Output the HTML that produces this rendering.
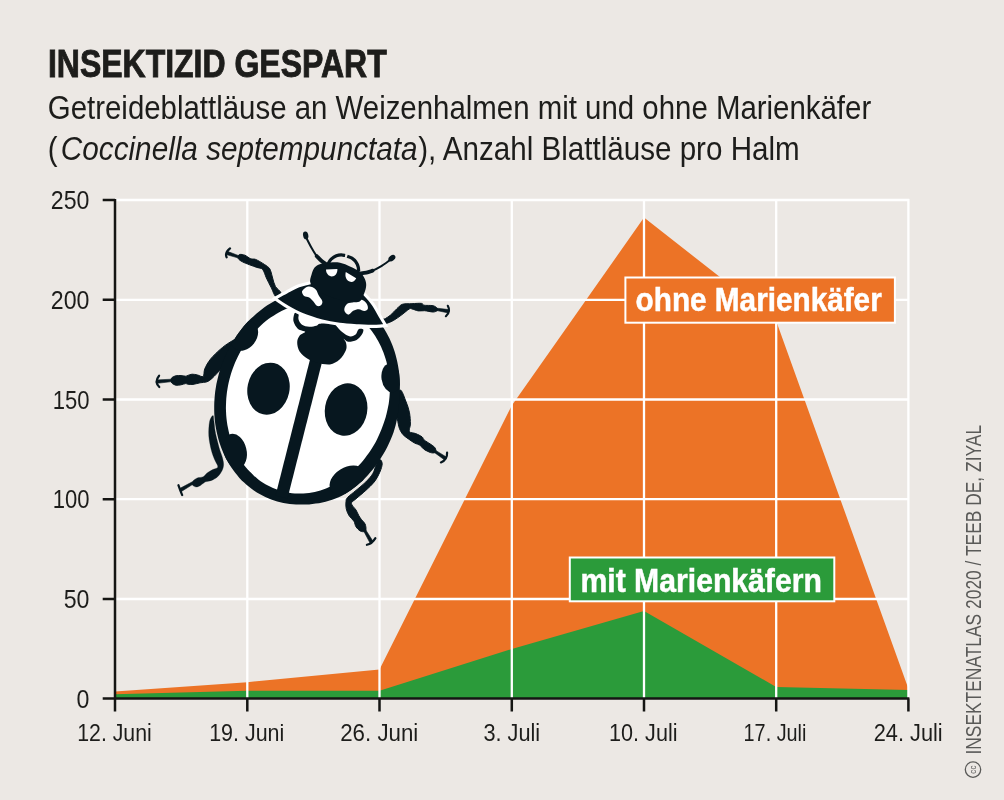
<!DOCTYPE html>
<html lang="de"><head><meta charset="utf-8"><title>Insektizid gespart</title>
<style>
html,body{margin:0;padding:0;background:#ece8e4;}
body{width:1004px;height:800px;overflow:hidden;}
svg{display:block;font-family:"Liberation Sans",sans-serif;}
</style></head><body>
<svg width="1004" height="800" viewBox="0 0 1004 800">
<rect width="1004" height="800" fill="#ece8e4"/>

<text transform="translate(47.9,76.5) scale(0.842,1)" font-size="38" font-weight="bold" text-anchor="start" fill="#1d1d1b" stroke="#1d1d1b" stroke-width="0.9">INSEKTIZID GESPART</text>
<text transform="translate(47.8,118.7) scale(0.8915,1)" font-size="33" font-weight="normal" text-anchor="start" fill="#1d1d1b" >Getreideblattläuse an Weizenhalmen mit und ohne Marienkäfer</text>
<text transform="translate(47.8,160.2) scale(0.89,1)" font-size="33" font-weight="normal" text-anchor="start" fill="#1d1d1b" >(</text>
<text transform="translate(60.8,160.2) scale(0.901,1)" font-size="33" font-weight="normal" text-anchor="start" fill="#1d1d1b" font-style="italic">Coccinella septempunctata</text>
<text transform="translate(418.2,160.2) scale(0.897,1)" font-size="33" font-weight="normal" text-anchor="start" fill="#1d1d1b" >), Anzahl Blattläuse pro Halm</text>
<polygon points="115.0,698.6 115.0,691.5 247.3,682.2 379.5,669.5 511.8,405.5 644.0,217.6 776.2,321.0 907.8,687.0 907.8,698.6" fill="#ec7326"/>
<polygon points="115.0,698.6 115.0,694.3 247.3,690.8 379.5,690.8 511.8,649.0 644.0,611.0 776.2,687.0 908.4,690.0 908.4,698.6" fill="#2b9b3a"/>
<path d="M247.3 199 V698.6 M379.5 199 V698.6 M511.8 199 V698.6 M644.0 199 V698.6 M776.2 199 V698.6 M908.4 199 V698.6 M115 200.0 H909.3 M115 299.8 H909.3 M115 399.5 H909.3 M115 499.2 H909.3 M115 599.0 H909.3" stroke="#fff" stroke-width="2.3" fill="none"/>
<path d="M115 199 V698.6 M102.7 698.6 H909.4 M102.7 200.0 H115 M102.7 299.8 H115 M102.7 399.5 H115 M102.7 499.2 H115 M102.7 599.0 H115 M115.0 698.6 V711.6 M247.3 698.6 V711.6 M379.5 698.6 V711.6 M511.8 698.6 V711.6 M644.0 698.6 V711.6 M776.2 698.6 V711.6 M908.4 698.6 V711.6" stroke="#151513" stroke-width="2.5" fill="none"/>
<text transform="translate(89.5,209.0) scale(0.92,1)" font-size="25.2" font-weight="normal" text-anchor="end" fill="#1d1d1b" >250</text>
<text transform="translate(89.5,308.8) scale(0.92,1)" font-size="25.2" font-weight="normal" text-anchor="end" fill="#1d1d1b" >200</text>
<text transform="translate(89.5,408.5) scale(0.875,1)" font-size="25.2" font-weight="normal" text-anchor="end" fill="#1d1d1b" >150</text>
<text transform="translate(89.5,508.2) scale(0.875,1)" font-size="25.2" font-weight="normal" text-anchor="end" fill="#1d1d1b" >100</text>
<text transform="translate(89.5,608.0) scale(0.92,1)" font-size="25.2" font-weight="normal" text-anchor="end" fill="#1d1d1b" >50</text>
<text transform="translate(89.5,707.6) scale(0.92,1)" font-size="25.2" font-weight="normal" text-anchor="end" fill="#1d1d1b" >0</text>
<text transform="translate(114.5,740.8) scale(0.887,1)" font-size="24" font-weight="normal" text-anchor="middle" fill="#1d1d1b" >12. Juni</text>
<text transform="translate(246.75,740.8) scale(0.894,1)" font-size="24" font-weight="normal" text-anchor="middle" fill="#1d1d1b" >19. Juni</text>
<text transform="translate(379.25,740.8) scale(0.93,1)" font-size="24" font-weight="normal" text-anchor="middle" fill="#1d1d1b" >26. Juni</text>
<text transform="translate(511.8,740.8) scale(0.906,1)" font-size="24" font-weight="normal" text-anchor="middle" fill="#1d1d1b" >3. Juli</text>
<text transform="translate(643.3,740.8) scale(0.9,1)" font-size="24" font-weight="normal" text-anchor="middle" fill="#1d1d1b" >10. Juli</text>
<text transform="translate(775.0,740.8) scale(0.826,1)" font-size="24" font-weight="normal" text-anchor="middle" fill="#1d1d1b" >17. Juli</text>
<text transform="translate(908.2,740.8) scale(0.908,1)" font-size="24" font-weight="normal" text-anchor="middle" fill="#1d1d1b" >24. Juli</text>
<rect x="625.4" y="277.5" width="269.5" height="45.2" fill="#ec7326" stroke="#fff" stroke-width="2"/>
<text transform="translate(635.6,311.2) scale(0.918,1)" font-size="32.4" font-weight="bold" text-anchor="start" fill="#fff" stroke="#fff" stroke-width="0.5">ohne Marienkäfer</text>
<rect x="569.8" y="557.5" width="264.5" height="43.8" fill="#2b9b3a" stroke="#fff" stroke-width="2"/>
<text transform="translate(580.5,591.8) scale(0.931,1)" font-size="32.4" font-weight="bold" text-anchor="start" fill="#fff" stroke="#fff" stroke-width="0.5">mit Marienkäfern</text>
<g transform="translate(980.6,754.6) rotate(-90)"><text transform="scale(0.791,1)" font-size="22" fill="#5a5a58">INSEKTENATLAS 2020 / TEEB DE, ZIYAL</text></g>
<g transform="translate(973,769.6)"><circle r="7.7" fill="none" stroke="#5a5a58" stroke-width="1.3"/><text transform="rotate(-90) scale(0.9,1)" x="0" y="2.6" font-size="9" text-anchor="middle" fill="#555">cc</text></g>
<g id="bug">
<path d="M238.2 255.8C238.5 255.1 238.9 254.5 240.0 254.4C241.1 254.3 243.0 254.5 244.8 255.2C246.6 255.9 249.0 258.1 250.8 258.8C252.6 259.5 253.6 258.6 255.6 259.4C257.6 260.2 260.6 262.0 262.8 263.4C265.0 264.8 267.4 266.2 268.8 267.6C270.2 269.0 270.4 270.3 271.0 272.0C271.6 273.7 271.9 275.6 272.6 278.0C273.3 280.4 274.0 283.9 275.4 286.4C276.8 288.9 280.9 291.2 281.0 293.0C281.1 294.8 277.6 297.9 276.0 297.0C274.4 296.1 272.8 290.8 271.2 287.6C269.6 284.4 267.8 281.0 266.4 278.0C265.0 275.0 264.2 271.2 262.6 269.4C261.0 267.6 259.0 268.2 256.8 267.4C254.6 266.6 252.0 265.7 249.6 264.8C247.2 263.9 244.3 262.8 242.4 261.8C240.5 260.8 239.1 259.8 238.4 258.8C237.7 257.8 237.9 256.5 238.2 255.8Z" fill="#07171f" stroke="#07171f" stroke-width="1.0" stroke-linejoin="round"/>
<path d="M230.0 248.4Q224.5 252.8 226.6 257.3" fill="none" stroke="#07171f" stroke-width="2.2" stroke-linecap="round"/><path d="M239.4 255.9L227.3 251.3L226.2 254.5L238.6 258.1Z" fill="#07171f" stroke="#07171f" stroke-width="0.6" stroke-linejoin="round"/>
<path d="M171.0 380.2C171.0 379.3 171.2 378.3 172.0 377.6C172.8 376.9 174.5 376.1 176.0 375.8C177.5 375.5 179.4 375.5 181.0 375.6C182.6 375.7 184.4 376.2 185.6 376.2C186.8 376.2 186.9 375.7 188.0 375.4C189.1 375.1 190.4 374.3 192.0 374.2C193.6 374.1 195.7 374.6 197.6 375.0C199.5 375.4 202.0 377.4 203.2 376.4C204.4 375.4 203.6 371.7 204.8 368.8C206.0 365.9 208.0 362.2 210.6 359.0C213.2 355.8 217.0 352.2 220.2 349.4C223.4 346.6 227.0 343.9 230.0 342.2C233.0 340.5 237.0 337.4 238.0 339.0C239.0 340.6 237.7 348.2 236.0 352.0C234.3 355.8 230.3 359.3 228.0 362.0C225.7 364.7 223.9 366.1 222.0 368.0C220.1 369.9 218.5 371.9 216.8 373.6C215.1 375.3 213.6 377.0 212.0 378.4C210.4 379.8 209.0 381.1 207.0 381.8C205.0 382.5 202.3 382.4 200.0 382.8C197.7 383.2 195.0 384.2 193.0 384.4C191.0 384.6 189.2 384.3 188.0 384.2C186.8 384.1 186.8 383.5 185.6 383.6C184.4 383.7 182.6 384.5 181.0 384.8C179.4 385.1 177.5 385.5 176.0 385.2C174.5 384.9 172.8 384.0 172.0 383.2C171.2 382.4 171.0 381.1 171.0 380.2Z" fill="#07171f" stroke="#07171f" stroke-width="1.0" stroke-linejoin="round"/>
<path d="M159.1 375.7Q154.0 381.9 159.3 387.0" fill="none" stroke="#07171f" stroke-width="2.2" stroke-linecap="round"/><path d="M171.9 379.2L156.9 379.9L157.1 383.3L172.1 381.6Z" fill="#07171f" stroke="#07171f" stroke-width="0.6" stroke-linejoin="round"/>
<path d="M213.0 415.4C212.3 415.4 210.3 418.2 209.6 421.6C208.9 425.0 208.5 431.2 208.8 436.0C209.1 440.8 210.4 446.4 211.4 450.4C212.4 454.4 213.7 457.2 214.8 460.0C215.9 462.8 218.1 465.4 217.8 467.0C217.5 468.6 214.6 468.6 212.8 469.6C211.0 470.6 208.4 472.0 206.8 473.2C205.2 474.4 204.8 476.0 203.2 476.8C201.6 477.6 198.9 477.3 197.2 478.0C195.5 478.7 193.7 480.1 192.8 481.2C191.9 482.3 191.5 483.6 192.0 484.6C192.5 485.6 194.5 486.9 196.0 487.0C197.5 487.1 199.2 486.1 200.8 485.2C202.4 484.3 203.8 482.6 205.6 481.8C207.4 481.0 209.6 481.2 211.6 480.4C213.6 479.6 215.9 478.4 217.6 476.8C219.3 475.2 221.0 472.8 222.0 470.8C223.0 468.8 223.5 467.0 223.6 464.8C223.7 462.6 223.1 460.4 222.4 457.6C221.7 454.8 220.3 452.0 219.2 448.0C218.1 444.0 216.5 438.0 215.6 433.6C214.7 429.2 214.4 424.6 214.0 421.6C213.6 418.6 213.7 415.4 213.0 415.4Z" fill="#07171f" stroke="#07171f" stroke-width="0.3" stroke-linejoin="round"/>
<path d="M178.4 485.2Q180.1 490.3 182.2 495.1" fill="none" stroke="#07171f" stroke-width="2.2" stroke-linecap="round"/><path d="M192.4 481.8L179.7 488.5L181.4 491.5L193.6 483.8Z" fill="#07171f" stroke="#07171f" stroke-width="0.6" stroke-linejoin="round"/>
<path d="M379.8 459.6C380.8 459.5 382.2 461.7 382.2 463.8C382.2 465.9 381.1 469.2 379.8 472.2C378.5 475.2 376.5 479.0 374.2 482.0C371.9 485.0 368.8 487.6 365.8 490.4C362.8 493.2 358.4 496.6 356.0 498.8C353.6 501.0 351.4 501.5 351.4 503.4C351.4 505.3 354.8 508.0 356.0 510.0C357.2 512.0 357.9 514.0 358.8 515.6C359.7 517.2 360.6 518.4 361.6 519.8C362.7 521.2 364.4 522.4 365.1 524.0C365.8 525.6 366.1 528.3 366.0 529.6C365.9 530.9 365.6 531.4 364.6 531.6C363.6 531.8 361.6 531.8 360.2 531.0C358.8 530.2 357.1 528.4 356.0 526.8C354.9 525.2 355.1 523.1 353.9 521.2C352.7 519.3 350.3 517.7 349.0 515.6C347.7 513.5 346.7 510.9 346.2 508.6C345.7 506.3 345.8 503.5 346.0 501.6C346.2 499.7 345.9 499.3 347.6 497.4C349.3 495.5 353.0 493.0 356.0 490.4C359.0 487.8 363.0 484.8 365.8 482.0C368.6 479.2 371.1 476.5 372.8 473.6C374.6 470.7 375.1 466.8 376.3 464.5C377.5 462.2 378.8 459.7 379.8 459.6Z" fill="#07171f" stroke="#07171f" stroke-width="1.0" stroke-linejoin="round"/>
<path d="M366.9 544.8Q372.2 543.6 375.4 538.1" fill="none" stroke="#07171f" stroke-width="2.2" stroke-linecap="round"/><path d="M363.8 531.2L370.0 543.0L373.0 541.3L365.8 530.0Z" fill="#07171f" stroke="#07171f" stroke-width="0.6" stroke-linejoin="round"/>
<path d="M400.0 390.0C402.0 389.4 404.4 397.8 406.0 401.6C407.6 405.4 408.8 409.1 409.5 412.8C410.2 416.5 410.4 420.9 410.4 424.0C410.4 427.1 408.5 429.9 409.4 431.5C410.3 433.1 413.6 432.7 415.7 433.6C417.8 434.5 420.6 435.8 422.0 436.8C423.4 437.9 422.7 438.7 424.1 439.9C425.5 441.1 428.6 442.9 430.4 444.1C432.1 445.3 433.7 446.2 434.6 447.3C435.5 448.4 435.9 449.7 435.9 450.6C435.9 451.5 435.5 452.4 434.6 452.7C433.7 453.0 432.1 453.1 430.4 452.5C428.6 451.9 425.9 450.6 424.1 449.4C422.4 448.2 421.5 446.2 419.9 445.2C418.3 444.1 416.6 444.2 414.7 443.1C412.8 442.1 410.3 440.3 408.4 438.9C406.5 437.5 404.6 436.4 403.1 434.7C401.6 432.9 400.4 431.0 399.4 428.4C398.4 425.8 398.2 422.8 397.3 418.9C396.4 415.0 393.6 409.8 394.0 405.0C394.4 400.2 398.0 390.6 400.0 390.0Z" fill="#07171f" stroke="#07171f" stroke-width="1.0" stroke-linejoin="round"/>
<path d="M440.9 462.4Q447.4 459.7 447.1 452.7" fill="none" stroke="#07171f" stroke-width="2.2" stroke-linecap="round"/><path d="M434.3 452.4L444.4 459.8L446.3 457.0L435.7 450.4Z" fill="#07171f" stroke="#07171f" stroke-width="0.6" stroke-linejoin="round"/>
<path d="M381.0 318.5C381.5 317.6 382.6 319.7 384.2 319.1C385.8 318.5 388.5 316.7 390.6 315.0C392.7 313.3 394.8 310.6 396.8 308.8C398.8 307.0 399.9 305.2 402.4 304.3C404.9 303.4 408.8 303.9 412.0 303.7C415.2 303.5 419.5 303.1 421.5 303.4C423.5 303.6 421.9 304.8 423.8 305.2C425.7 305.6 430.7 305.2 433.0 305.7C435.3 306.2 436.7 307.6 437.4 308.4C438.1 309.2 438.1 309.9 437.4 310.5C436.7 311.1 435.1 312.0 433.0 312.0C430.9 312.0 427.1 310.9 424.6 310.7C422.2 310.5 420.4 311.2 418.3 310.9C416.2 310.6 413.5 309.2 412.0 308.9C410.5 308.6 410.9 308.1 409.2 309.0C407.5 309.9 404.6 312.7 402.0 314.6C399.4 316.5 396.3 318.9 393.6 320.4C390.9 321.9 388.1 322.9 386.0 323.6C383.9 324.3 381.8 325.5 381.0 324.6C380.2 323.8 380.5 319.4 381.0 318.5Z" fill="#07171f" stroke="#07171f" stroke-width="1.0" stroke-linejoin="round"/>
<path d="M445.9 316.2Q451.1 311.6 447.8 305.8" fill="none" stroke="#07171f" stroke-width="2.2" stroke-linecap="round"/><path d="M436.8 310.6L448.3 312.9L448.9 309.6L437.2 308.2Z" fill="#07171f" stroke="#07171f" stroke-width="0.6" stroke-linejoin="round"/>
<path d="M395.7 425.1C395.0 427.6 394.3 430.1 393.5 432.6C392.7 435.0 391.7 437.4 390.6 439.8C389.6 442.2 388.5 444.5 387.4 446.8C386.2 449.1 385.0 451.4 383.7 453.6C382.4 455.9 381.0 458.0 379.6 460.2C378.2 462.3 376.7 464.4 375.1 466.4C373.6 468.4 372.0 470.4 370.3 472.3C368.7 474.3 367.0 476.1 365.2 477.9C363.5 479.7 361.7 481.5 359.8 483.1C358.0 484.7 356.0 486.3 354.1 487.8C352.1 489.3 350.1 490.6 348.1 492.0C346.1 493.3 344.0 494.6 341.9 495.7C339.8 496.8 337.6 497.6 335.5 498.5C333.3 499.3 331.1 500.0 328.9 500.7C326.7 501.3 324.5 501.9 322.3 502.4C320.1 502.8 317.9 503.3 315.7 503.6C313.5 503.9 311.3 504.2 309.1 504.4C306.9 504.5 304.8 504.6 302.6 504.6C300.4 504.6 298.3 504.6 296.1 504.5C294.0 504.4 291.8 504.2 289.7 504.0C287.6 503.7 285.5 503.4 283.4 503.0C281.3 502.5 279.2 502.0 277.2 501.4C275.2 500.9 273.2 500.2 271.2 499.4C269.2 498.7 267.2 497.9 265.3 497.0C263.4 496.1 261.5 495.1 259.6 494.1C257.8 493.0 255.9 491.9 254.2 490.7C252.4 489.5 250.6 488.2 249.0 486.8C247.3 485.5 245.6 484.1 244.1 482.6C242.5 481.1 240.9 479.5 239.4 477.9C238.0 476.2 236.5 474.5 235.2 472.8C233.8 471.0 232.5 469.2 231.2 467.3C230.0 465.5 228.8 463.5 227.7 461.5C226.6 459.6 225.5 457.5 224.5 455.4C223.5 453.3 222.6 451.2 221.7 449.0C220.9 446.9 220.1 444.6 219.4 442.4C218.7 440.1 218.0 437.8 217.5 435.5C216.9 433.2 216.4 430.8 216.0 428.4C215.6 426.1 215.2 423.7 214.9 421.2C214.7 418.8 214.5 416.4 214.3 413.9C214.2 411.4 214.2 409.0 214.2 406.5C214.2 404.0 214.3 401.5 214.5 399.0C214.7 396.5 214.9 394.0 215.2 391.6C215.6 389.1 216.0 386.6 216.4 384.1C216.9 381.6 217.5 379.2 218.1 376.7C218.7 374.3 219.4 371.9 220.2 369.5C220.9 367.0 221.8 364.7 222.7 362.3C223.6 360.0 224.5 357.6 225.6 355.3C226.6 353.0 227.7 350.8 228.9 348.6C230.0 346.3 231.3 344.1 232.6 342.0C233.9 339.9 235.2 337.8 236.6 335.7C238.0 333.7 239.5 331.7 241.0 329.8C242.5 327.8 244.1 325.9 245.7 324.1C247.4 322.3 249.0 320.5 250.7 318.8C252.5 317.1 254.2 315.5 256.0 313.9C257.8 312.4 259.7 310.9 261.6 309.4C263.5 308.0 265.4 306.6 267.3 305.3C269.3 304.1 271.3 302.8 273.3 301.7C275.3 300.6 277.3 299.5 279.4 298.5C281.5 297.6 283.5 296.7 285.6 295.9C287.7 295.0 289.9 294.3 292.0 293.7C294.1 293.0 296.3 292.4 298.4 292.0C300.6 291.5 302.7 291.1 304.9 290.8C307.0 290.5 309.2 290.3 311.4 290.1C313.5 290.0 315.7 289.9 317.8 290.0C320.0 290.0 322.1 290.2 324.2 290.4C326.4 290.6 328.5 290.9 330.6 291.3C332.6 291.7 334.7 292.1 336.8 292.7C338.8 293.2 340.8 293.9 342.8 294.6C344.8 295.3 346.8 296.1 348.7 297.0C350.6 297.9 352.5 298.9 354.4 299.9C356.2 301.0 358.1 302.1 359.8 303.3C361.6 304.5 363.4 305.8 365.0 307.2C366.7 308.5 368.4 309.9 369.9 311.4C371.5 312.9 373.1 314.5 374.6 316.1C376.0 317.8 377.5 319.5 378.8 321.2C380.2 323.0 381.5 324.8 382.8 326.7C384.0 328.5 385.2 330.5 386.3 332.5C387.4 334.4 388.5 336.5 389.5 338.6C390.5 340.7 391.4 342.8 392.3 345.0C393.1 347.1 393.9 349.4 394.6 351.6C395.3 353.9 396.0 356.2 396.5 358.5C397.1 360.8 397.6 363.2 398.0 365.6C398.4 367.9 398.8 370.3 399.1 372.8C399.3 375.2 399.5 377.6 399.7 380.1C399.8 382.6 399.9 385.0 399.9 387.5C399.9 390.0 399.8 392.5 399.7 395.0C399.5 397.5 399.3 400.0 399.1 402.5C398.9 405.0 398.7 407.5 398.4 410.0C398.1 412.5 397.7 415.1 397.3 417.6C396.8 420.1 396.3 422.6 395.7 425.1Z" fill="#07171f"/>
<path d="M384.7 420.3C384.0 422.4 383.2 424.5 382.5 426.6C381.7 428.7 380.9 430.8 380.0 432.8C379.2 434.9 378.2 436.9 377.2 438.9C376.3 440.8 375.2 442.8 374.1 444.7C373.0 446.6 371.9 448.5 370.7 450.3C369.5 452.1 368.2 453.9 366.9 455.6C365.6 457.4 364.3 459.1 363.0 460.8C361.6 462.4 360.2 464.0 358.7 465.6C357.3 467.2 355.8 468.7 354.3 470.1C352.7 471.6 351.1 473.0 349.5 474.3C347.9 475.7 346.3 476.9 344.6 478.1C342.9 479.4 341.2 480.5 339.5 481.6C337.7 482.7 336.0 483.7 334.2 484.6C332.4 485.6 330.6 486.4 328.7 487.2C326.9 488.0 325.1 488.8 323.2 489.4C321.3 490.1 319.5 490.7 317.6 491.2C315.7 491.7 313.8 492.1 311.9 492.5C310.0 492.8 308.1 493.1 306.2 493.3C304.3 493.4 302.3 493.5 300.4 493.5C298.5 493.6 296.7 493.5 294.8 493.4C292.9 493.2 291.0 493.0 289.2 492.7C287.3 492.4 285.5 492.0 283.6 491.6C281.8 491.1 280.0 490.6 278.2 490.0C276.5 489.4 274.7 488.7 273.0 488.0C271.3 487.3 269.6 486.4 267.9 485.5C266.2 484.7 264.6 483.7 263.0 482.7C261.4 481.6 259.8 480.5 258.3 479.4C256.8 478.2 255.3 477.0 253.9 475.7C252.5 474.4 251.1 473.0 249.7 471.6C248.4 470.2 247.1 468.7 245.8 467.2C244.6 465.6 243.4 464.1 242.3 462.4C241.1 460.8 240.0 459.1 239.0 457.3C238.0 455.6 237.0 453.8 236.1 452.0C235.1 450.1 234.3 448.2 233.5 446.3C232.7 444.4 231.9 442.5 231.3 440.5C230.6 438.5 230.0 436.4 229.4 434.4C228.9 432.3 228.4 430.2 228.0 428.1C227.5 426.0 227.2 423.9 226.9 421.7C226.6 419.6 226.4 417.4 226.2 415.2C226.1 413.0 226.0 410.8 225.9 408.6C225.9 406.4 226.0 404.2 226.1 402.0C226.2 399.8 226.3 397.5 226.6 395.3C226.8 393.1 227.1 390.9 227.5 388.7C227.9 386.4 228.3 384.2 228.8 382.0C229.3 379.9 229.9 377.7 230.5 375.5C231.1 373.4 231.8 371.2 232.6 369.1C233.3 367.0 234.1 364.9 235.0 362.8C235.9 360.7 236.8 358.7 237.8 356.7C238.8 354.7 239.8 352.7 240.9 350.8C242.0 348.9 243.2 347.0 244.4 345.1C245.6 343.3 246.9 341.4 248.2 339.7C249.5 337.9 250.8 336.2 252.2 334.6C253.6 332.9 255.1 331.3 256.6 329.7C258.0 328.2 259.6 326.7 261.1 325.2C262.7 323.8 264.3 322.4 265.9 321.1C267.6 319.8 269.3 318.5 271.0 317.3C272.7 316.1 274.4 315.0 276.2 313.9C277.9 312.9 279.7 311.9 281.5 311.0C283.3 310.1 285.1 309.2 287.0 308.4C288.8 307.7 290.7 307.0 292.6 306.3C294.4 305.7 296.3 305.2 298.2 304.7C300.1 304.2 302.0 303.8 303.9 303.5C305.8 303.2 307.7 302.9 309.6 302.7C311.5 302.6 313.5 302.5 315.4 302.5C317.3 302.4 319.1 302.5 321.0 302.6C322.9 302.8 324.8 303.0 326.6 303.3C328.5 303.6 330.3 304.0 332.2 304.4C334.0 304.9 335.8 305.4 337.6 306.0C339.3 306.6 341.1 307.3 342.8 308.0C344.5 308.7 346.2 309.6 347.9 310.5C349.6 311.3 351.2 312.3 352.8 313.3C354.4 314.4 356.0 315.5 357.5 316.6C359.0 317.8 360.5 319.0 361.9 320.3C363.3 321.6 364.7 323.0 366.1 324.4C367.4 325.8 368.7 327.3 370.0 328.8C371.2 330.4 372.4 331.9 373.5 333.6C374.7 335.2 375.8 336.9 376.8 338.7C377.8 340.4 378.8 342.2 379.7 344.0C380.7 345.9 381.5 347.8 382.3 349.7C383.1 351.6 383.9 353.5 384.5 355.5C385.2 357.5 385.8 359.6 386.4 361.6C386.9 363.7 387.4 365.8 387.8 367.9C388.3 370.0 388.6 372.1 388.9 374.3C389.2 376.4 389.4 378.6 389.6 380.8C389.7 383.0 389.8 385.2 389.9 387.4C389.9 389.6 389.9 391.8 389.7 394.0C389.6 396.2 389.4 398.5 389.1 400.7C388.9 402.9 388.5 405.1 388.0 407.3C387.6 409.5 387.1 411.7 386.5 413.9C386.0 416.0 385.4 418.2 384.7 420.3Z" fill="#fff"/>
<clipPath id="bc"><path d="M395.7 425.1C395.0 427.6 394.3 430.1 393.5 432.6C392.7 435.0 391.7 437.4 390.6 439.8C389.6 442.2 388.5 444.5 387.4 446.8C386.2 449.1 385.0 451.4 383.7 453.6C382.4 455.9 381.0 458.0 379.6 460.2C378.2 462.3 376.7 464.4 375.1 466.4C373.6 468.4 372.0 470.4 370.3 472.3C368.7 474.3 367.0 476.1 365.2 477.9C363.5 479.7 361.7 481.5 359.8 483.1C358.0 484.7 356.0 486.3 354.1 487.8C352.1 489.3 350.1 490.6 348.1 492.0C346.1 493.3 344.0 494.6 341.9 495.7C339.8 496.8 337.6 497.6 335.5 498.5C333.3 499.3 331.1 500.0 328.9 500.7C326.7 501.3 324.5 501.9 322.3 502.4C320.1 502.8 317.9 503.3 315.7 503.6C313.5 503.9 311.3 504.2 309.1 504.4C306.9 504.5 304.8 504.6 302.6 504.6C300.4 504.6 298.3 504.6 296.1 504.5C294.0 504.4 291.8 504.2 289.7 504.0C287.6 503.7 285.5 503.4 283.4 503.0C281.3 502.5 279.2 502.0 277.2 501.4C275.2 500.9 273.2 500.2 271.2 499.4C269.2 498.7 267.2 497.9 265.3 497.0C263.4 496.1 261.5 495.1 259.6 494.1C257.8 493.0 255.9 491.9 254.2 490.7C252.4 489.5 250.6 488.2 249.0 486.8C247.3 485.5 245.6 484.1 244.1 482.6C242.5 481.1 240.9 479.5 239.4 477.9C238.0 476.2 236.5 474.5 235.2 472.8C233.8 471.0 232.5 469.2 231.2 467.3C230.0 465.5 228.8 463.5 227.7 461.5C226.6 459.6 225.5 457.5 224.5 455.4C223.5 453.3 222.6 451.2 221.7 449.0C220.9 446.9 220.1 444.6 219.4 442.4C218.7 440.1 218.0 437.8 217.5 435.5C216.9 433.2 216.4 430.8 216.0 428.4C215.6 426.1 215.2 423.7 214.9 421.2C214.7 418.8 214.5 416.4 214.3 413.9C214.2 411.4 214.2 409.0 214.2 406.5C214.2 404.0 214.3 401.5 214.5 399.0C214.7 396.5 214.9 394.0 215.2 391.6C215.6 389.1 216.0 386.6 216.4 384.1C216.9 381.6 217.5 379.2 218.1 376.7C218.7 374.3 219.4 371.9 220.2 369.5C220.9 367.0 221.8 364.7 222.7 362.3C223.6 360.0 224.5 357.6 225.6 355.3C226.6 353.0 227.7 350.8 228.9 348.6C230.0 346.3 231.3 344.1 232.6 342.0C233.9 339.9 235.2 337.8 236.6 335.7C238.0 333.7 239.5 331.7 241.0 329.8C242.5 327.8 244.1 325.9 245.7 324.1C247.4 322.3 249.0 320.5 250.7 318.8C252.5 317.1 254.2 315.5 256.0 313.9C257.8 312.4 259.7 310.9 261.6 309.4C263.5 308.0 265.4 306.6 267.3 305.3C269.3 304.1 271.3 302.8 273.3 301.7C275.3 300.6 277.3 299.5 279.4 298.5C281.5 297.6 283.5 296.7 285.6 295.9C287.7 295.0 289.9 294.3 292.0 293.7C294.1 293.0 296.3 292.4 298.4 292.0C300.6 291.5 302.7 291.1 304.9 290.8C307.0 290.5 309.2 290.3 311.4 290.1C313.5 290.0 315.7 289.9 317.8 290.0C320.0 290.0 322.1 290.2 324.2 290.4C326.4 290.6 328.5 290.9 330.6 291.3C332.6 291.7 334.7 292.1 336.8 292.7C338.8 293.2 340.8 293.9 342.8 294.6C344.8 295.3 346.8 296.1 348.7 297.0C350.6 297.9 352.5 298.9 354.4 299.9C356.2 301.0 358.1 302.1 359.8 303.3C361.6 304.5 363.4 305.8 365.0 307.2C366.7 308.5 368.4 309.9 369.9 311.4C371.5 312.9 373.1 314.5 374.6 316.1C376.0 317.8 377.5 319.5 378.8 321.2C380.2 323.0 381.5 324.8 382.8 326.7C384.0 328.5 385.2 330.5 386.3 332.5C387.4 334.4 388.5 336.5 389.5 338.6C390.5 340.7 391.4 342.8 392.3 345.0C393.1 347.1 393.9 349.4 394.6 351.6C395.3 353.9 396.0 356.2 396.5 358.5C397.1 360.8 397.6 363.2 398.0 365.6C398.4 367.9 398.8 370.3 399.1 372.8C399.3 375.2 399.5 377.6 399.7 380.1C399.8 382.6 399.9 385.0 399.9 387.5C399.9 390.0 399.8 392.5 399.7 395.0C399.5 397.5 399.3 400.0 399.1 402.5C398.9 405.0 398.7 407.5 398.4 410.0C398.1 412.5 397.7 415.1 397.3 417.6C396.8 420.1 396.3 422.6 395.7 425.1Z"/></clipPath>
<g clip-path="url(#bc)">
<path d="M318.5 351 L281.5 497" stroke="#07171f" stroke-width="12.3" fill="none"/>
<ellipse cx="268.5" cy="388.7" rx="21" ry="26.2" transform="rotate(12 268.5 388.7)" fill="#07171f"/>
<ellipse cx="346.1" cy="409.6" rx="21.2" ry="26.4" transform="rotate(10 346.1 409.6)" fill="#07171f"/>
<ellipse cx="244.5" cy="336" rx="12" ry="16" transform="rotate(38 244.5 336)" fill="#07171f"/>
<ellipse cx="391" cy="378" rx="9.5" ry="14.5" transform="rotate(-8 391 378)" fill="#07171f"/>
<ellipse cx="235" cy="451" rx="11.5" ry="17.5" transform="rotate(-14 235 451)" fill="#07171f"/>
<ellipse cx="347" cy="480" rx="19" ry="12.5" transform="rotate(-32 347 480)" fill="#07171f"/>
</g>
<path d="M298.6 313.2C299.3 314.3 297.9 317.4 298.5 319.3C299.0 321.2 300.2 323.5 302.0 324.7C303.8 326.0 306.8 326.6 309.2 326.8C311.6 327.0 314.5 326.2 316.4 325.7C318.3 325.2 317.6 324.0 320.4 323.8C323.2 323.5 330.4 323.5 333.2 324.1C336.0 324.6 336.0 325.9 337.2 327.0C338.4 328.0 339.0 329.2 340.4 330.5C341.8 331.7 343.8 333.5 345.5 334.5C347.3 335.5 349.1 336.5 350.8 336.4C352.5 336.3 354.6 335.4 355.9 334.2C357.2 333.0 357.4 330.0 358.6 329.2C359.9 328.4 362.8 328.6 363.3 329.5C363.8 330.5 362.8 333.1 361.7 334.8C360.6 336.5 358.8 338.7 356.6 339.9C354.3 341.1 350.4 342.0 348.2 341.8C346.1 341.7 344.1 338.6 343.8 338.8C343.4 339.0 345.6 340.9 346.0 342.8C346.4 344.7 347.1 347.2 346.0 350.0C344.9 352.8 342.3 357.2 339.6 359.6C336.9 362.0 333.7 363.9 330.0 364.4C326.3 364.9 320.9 363.7 317.2 362.8C313.5 361.9 310.5 360.7 307.6 358.8C304.7 356.9 301.3 354.4 299.6 351.6C297.9 348.8 297.1 344.7 297.2 342.0C297.3 339.3 298.6 337.0 299.9 335.3C301.3 333.6 305.5 332.8 305.2 331.8C304.9 330.7 299.9 330.6 298.0 328.9C296.1 327.1 294.1 323.9 293.5 321.2C293.0 318.5 293.9 314.2 294.8 312.9C295.7 311.5 298.0 312.1 298.6 313.2Z" fill="#07171f" />
<path d="M274.8 298.4C276.8 297.3 282.8 293.9 286.8 291.8C290.8 289.7 294.8 287.4 298.8 285.8C302.8 284.2 305.8 284.0 311.0 282.4C316.2 280.8 323.2 276.1 330.0 276.0C336.8 275.9 346.3 279.0 352.0 282.0C357.7 285.0 360.9 290.3 364.4 294.0C367.9 297.7 370.4 300.4 373.2 304.4C376.0 308.4 379.1 314.5 381.2 318.0C383.3 321.5 384.9 324.2 385.7 325.4C384.1 325.6 380.9 326.3 376.4 326.4C371.9 326.5 364.9 326.2 358.8 325.9C352.7 325.5 345.7 325.1 339.6 324.3C333.5 323.5 328.1 322.6 322.0 321.0C315.9 319.4 308.6 317.2 302.8 314.8C297.0 312.4 291.7 309.3 287.0 306.6C282.3 303.9 276.8 299.8 274.8 298.4Z" fill="#07171f" stroke="#fff" stroke-width="3.1" stroke-linejoin="miter"/>
<path d="M302.0 291.6C302.2 290.3 303.9 288.7 305.2 287.9C306.5 287.1 307.8 286.4 309.5 286.6C311.3 286.9 314.1 287.7 315.6 289.2C317.1 290.7 317.7 293.6 318.8 295.6C319.9 297.6 321.9 299.6 322.3 301.2C322.7 302.8 321.9 304.4 321.0 305.2C320.1 306.0 318.2 306.5 316.9 305.8C315.6 305.2 314.5 302.6 313.2 301.2C311.9 299.8 310.7 298.4 309.2 297.5C307.7 296.6 305.3 296.9 304.1 295.9C302.9 294.9 301.8 292.9 302.0 291.6Z" fill="#fff" />
<path d="M344.4 308.4C344.8 306.9 346.0 304.7 347.6 303.6C349.2 302.5 351.9 302.7 354.0 302.0C356.1 301.3 358.4 299.5 360.4 299.6C362.4 299.7 364.7 301.3 366.0 302.8C367.3 304.3 368.2 307.0 367.9 308.4C367.7 309.8 365.9 310.8 364.4 311.0C362.9 311.1 360.7 309.2 358.8 309.2C356.9 309.2 354.9 309.9 353.2 310.8C351.5 311.7 350.0 314.3 348.7 314.6C347.4 314.9 346.1 313.6 345.4 312.6C344.6 311.5 344.0 309.9 344.4 308.4Z" fill="#fff" />
<path d="M310.6 283.5C309.2 280.6 310.8 277.4 311.5 274.7C312.2 272.0 313.2 269.2 314.6 267.5C316.0 265.8 317.9 264.9 319.8 264.2C321.7 263.5 323.1 263.4 326.0 263.1C328.9 262.8 333.8 261.9 337.4 262.3C341.0 262.7 344.3 264.0 347.8 265.4C351.3 266.8 355.8 269.1 358.2 270.6C360.6 272.2 361.3 273.0 362.5 274.7C363.7 276.4 365.0 278.8 365.6 280.9C366.2 283.0 366.4 284.8 366.0 287.2C365.6 289.6 364.6 292.9 363.3 295.4C362.0 297.9 361.9 301.2 358.0 302.0C354.1 302.8 346.3 301.7 340.0 300.0C333.7 298.3 324.9 294.8 320.0 292.0C315.1 289.2 312.0 286.4 310.6 283.5Z" fill="#07171f" />
<path d="M306.4 238.0C307.2 239.6 309.8 244.8 311.5 247.8C313.2 250.8 315.0 253.9 316.7 256.1C318.4 258.4 320.2 259.8 321.9 261.3C323.6 262.8 326.1 264.4 327.0 265.0" fill="none" stroke="#07171f" stroke-width="2.0" stroke-linecap="round" stroke-linejoin="round" />
<path d="M316.7 256.1C317.6 257.0 320.0 259.7 321.9 261.3C323.8 262.9 327.0 264.8 328.0 265.5" fill="none" stroke="#07171f" stroke-width="3.8" stroke-linecap="round" stroke-linejoin="round" />
<ellipse cx="305.7" cy="235.4" rx="2.6" ry="3.9" transform="rotate(-12 305.7 235.4)" fill="#07171f"/>
<path d="M389.4 260.4C388.0 261.4 383.7 264.7 380.9 266.4C378.1 268.1 375.1 269.6 372.7 270.6C370.3 271.6 368.7 272.1 366.4 272.6C364.1 273.1 360.2 273.3 359.0 273.4" fill="none" stroke="#07171f" stroke-width="2.0" stroke-linecap="round" stroke-linejoin="round" />
<path d="M372.7 270.6C371.6 270.9 368.7 272.1 366.4 272.6C364.1 273.1 360.2 273.4 359.0 273.6" fill="none" stroke="#07171f" stroke-width="3.8" stroke-linecap="round" stroke-linejoin="round" />
<ellipse cx="391.9" cy="258.1" rx="2.6" ry="3.9" transform="rotate(52 391.9 258.1)" fill="#07171f"/>
<path d="M328.1 263.6C328.6 262.9 329.8 260.5 331.2 259.2C332.6 257.9 334.7 256.4 336.4 255.7C338.1 255.0 339.8 254.8 341.2 254.8C342.6 254.8 344.5 255.4 345.1 255.5" fill="none" stroke="#07171f" stroke-width="3.2" stroke-linejoin="round" stroke-linecap="butt"/>
<path d="M347.2 256.2C348.0 256.5 350.4 257.2 351.9 258.2C353.4 259.2 355.1 260.7 356.1 262.2C357.2 263.7 357.8 265.5 358.2 267.0C358.6 268.5 358.6 270.7 358.7 271.4" fill="none" stroke="#07171f" stroke-width="3.2" stroke-linejoin="round" stroke-linecap="butt"/>
<path d="M326 269.6 L337.4 269 C337.6 273.5 335 276.4 331.8 276.4 C328.5 276.4 326 273.5 326 269.6Z" fill="#fff"/>
<path d="M345.8 272 L356.2 278.2 C354.8 281.4 352.2 282.6 349.6 281.6 C346.4 280.4 344.6 276.4 345.8 272Z" fill="#fff"/>
</g>
</svg></body></html>
